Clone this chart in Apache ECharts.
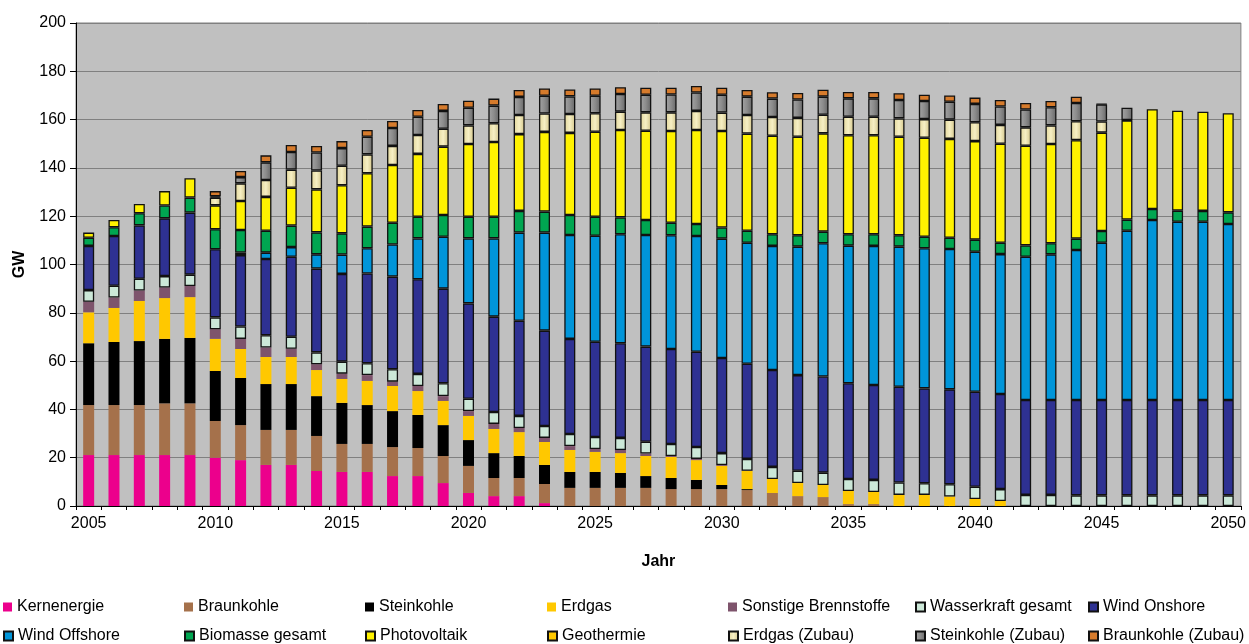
<!DOCTYPE html>
<html><head><meta charset="utf-8">
<script src="https://cdn.jsdelivr.net/npm/echarts@6/dist/echarts.min.js"></script>
<style>html,body{margin:0;padding:0;background:#fff;}#c{width:1249px;height:644px;}</style>
</head><body><div id="c"></div>
<script>
const years = ['2005','2006','2007','2008','2009','2010','2011','2012','2013','2014','2015','2016','2017','2018','2019','2020','2021','2022','2023','2024','2025','2026','2027','2028','2029','2030','2031','2032','2033','2034','2035','2036','2037','2038','2039','2040','2041','2042','2043','2044','2045','2046','2047','2048','2049','2050'];
const yTicks = [0,20,40,60,80,100,120,140,160,180,200];

const kernenergie = [21.1,21.1,21.1,21.1,21.1,20.0,19.0,17.0,17.0,14.5,14.1,14.1,12.4,12.4,9.5,5.4,4.1,4.1,1.2,0,0,0,0,0,0,0,0,0,0,0,0,0,0,0,0,0,0,0,0,0,0,0,0,0,0,0];
const braunkohle = [20.7,20.7,20.7,21.4,21.4,15.2,14.5,14.5,14.5,14.5,11.6,11.6,12.0,11.6,11.2,11.2,7.5,7.5,7.9,7.5,7.5,7.5,7.5,7.0,7.0,7.0,6.6,5.4,4.1,3.7,0.8,0.8,0,0,0,0,0,0,0,0,0,0,0,0,0,0];
const steinkohle = [25.6,26.1,26.5,26.7,27.1,20.7,19.5,19.0,19.0,16.5,17.0,16.1,14.9,13.7,12.8,10.7,10.3,9.1,7.9,6.6,6.6,6.2,4.9,4.6,3.8,1.7,0.4,0,0,0,0,0,0,0,0,0,0,0,0,0,0,0,0,0,0,0];
const erdgas = [12.8,14.1,16.6,16.9,16.9,13.3,12.0,11.2,11.2,10.8,9.9,10.0,10.4,9.9,10.0,10.0,10.0,9.9,9.5,9.1,8.3,8.2,8.3,8.7,8.2,7.9,7.5,5.8,5.4,5.0,5.4,5.0,4.6,4.6,3.9,2.9,2.1,0,0,0,0,0,0,0,0,0];
const sonstige = [4.4,4.3,4.3,4.4,4.6,4.0,4.2,3.9,3.4,2.4,2.2,2.4,1.8,2.1,2.0,2.0,2.1,1.7,1.7,1.6,1.2,1.3,1.0,0.4,0.5,0.4,0.1,0,0,0,0,0,0,0,0,0,0,0,0,0,0,0,0,0,0,0];
const wasserkraft = [4.8,4.9,4.9,4.7,4.7,4.9,5.1,5.1,5.0,4.9,5.0,4.9,5.1,5.0,5.3,5.1,4.9,5.0,4.9,5.0,5.0,5.0,4.9,5.0,4.9,4.9,4.9,5.0,5.1,5.1,5.0,5.0,5.1,4.8,5.1,5.1,4.9,4.6,4.6,4.4,4.4,4.4,4.4,4.4,4.4,4.4];
const windOnshore = [18.3,20.6,22.1,23.9,25.7,28.2,29.6,31.6,33.1,34.7,36.3,37.2,38.4,39.2,39.2,39.5,39.5,39.4,39.5,39.4,39.4,39.2,39.4,39.3,39.5,39.4,39.4,40.1,39.6,39.8,39.6,39.3,39.7,39.3,39.3,39.3,39.4,39.3,39.3,39.5,39.5,39.5,39.5,39.5,39.5,39.5];
const windOffshore = [0,0,0,0,0,0,1.1,2.6,4.0,5.9,8.0,10.4,13.3,16.9,21.5,26.9,32.4,36.5,40.6,43.0,43.9,45.1,46.2,47.1,47.9,49.4,50.1,51.4,53.2,55.2,57.0,57.6,58.0,58.0,58.1,58.0,57.9,59.3,60.3,62.1,65.1,70.1,74.5,73.8,73.8,72.9];
const biomasse = [3.4,3.6,5.0,5.3,6.2,8.3,9.3,9.1,8.9,9.1,8.8,9.0,9.0,9.0,9.0,9.0,9.0,9.0,8.7,8.3,7.9,7.0,6.2,5.2,5.0,4.6,5.0,4.8,4.7,4.8,4.7,4.8,4.7,4.8,4.7,5.0,4.7,4.7,4.6,4.7,4.9,4.6,4.6,4.6,4.5,4.8];
const photovoltaik = [2.1,3.0,3.9,6.0,8.0,9.9,12.0,14.0,15.7,17.8,19.9,22.1,23.9,26.0,28.3,30.1,30.9,31.8,33.0,34.0,35.2,36.2,37.0,38.0,38.9,40.0,40.2,40.8,40.8,40.7,41.0,41.0,40.8,41.0,40.9,40.8,41.0,41.3,41.1,40.8,40.7,41.0,41.3,41.4,41.1,41.0];
const geothermie = [0,0,0,0,0,0,0,0,0,0,0,0,0,0,0,0,0,0,0,0,0,0,0,0,0,0,0,0,0,0,0,0,0,0,0,0,0,0,0,0,0,0,0,0,0,0];
const erdgasZubau = [0,0,0,0,0,3.2,7.3,7.0,7.5,7.8,8.1,7.8,7.9,7.8,7.4,7.7,7.8,7.9,7.6,7.8,7.6,7.6,7.6,7.7,7.9,7.6,7.7,7.8,7.8,7.7,7.7,7.7,7.6,7.7,8.0,7.8,7.8,7.6,7.7,7.8,4.6,0.2,0,0,0,0];
const steinkohleZubau = [0,0,0,0,0,0.5,2.6,7.3,7.3,7.5,7.3,7.3,7.4,7.6,7.4,7.3,7.3,7.5,7.4,7.3,7.3,7.3,7.3,7.4,7.6,7.4,7.6,7.6,7.6,7.5,7.6,7.6,7.6,7.5,7.4,7.6,7.6,7.4,7.5,7.6,7.1,5.1,0,0,0,0];
const braunkohleZubau = [0,0,0,0,0,2.2,2.5,2.9,2.9,2.7,2.9,2.8,2.9,2.8,2.9,2.9,2.9,2.9,3.0,2.9,3.0,2.8,2.9,2.8,2.7,2.9,2.8,2.6,2.7,2.9,2.6,2.6,2.8,2.6,2.6,2.6,2.7,2.7,2.6,2.6,0.2,0,0,0,0,0];

const grad = (a,b,c) => ({type:'linear',x:0,y:0,x2:1,y2:0,colorStops:[{offset:0,color:a},{offset:0.5,color:b},{offset:1,color:c}]});
const defs = [
  ['Kernenergie', kernenergie, '#EC008C', false],
  ['Braunkohle', braunkohle, '#A5714B', false],
  ['Steinkohle', steinkohle, '#000000', false],
  ['Erdgas', erdgas, '#FFC800', false],
  ['Sonstige Brennstoffe', sonstige, '#7E546C', false],
  ['Wasserkraft gesamt', wasserkraft, '#CCE8D8', true],
  ['Wind Onshore', windOnshore, '#2E3192', true],
  ['Wind Offshore', windOffshore, '#0095D9', true],
  ['Biomasse gesamt', biomasse, '#00A651', true],
  ['Photovoltaik', photovoltaik, '#FFF200', true],
  ['Geothermie', geothermie, '#FFC800', true],
  ['Erdgas (Zubau)', erdgasZubau, grad('#E2D69A','#F6EFC4','#D2C488'), true],
  ['Steinkohle (Zubau)', steinkohleZubau, grad('#A4A4A4','#8C8C8C','#666666'), true],
  ['Braunkohle (Zubau)', braunkohleZubau, '#D67B2C', true]
];
const series = defs.map(([name, vals, color, border]) => ({
  name, type:'bar', stack:'all', barWidth: 11,
  data: vals.map(v => v > 0 ? v : '-'),
  itemStyle: border ? {color, borderColor:'#111', borderWidth:1.3} : {color},
  emphasis:{disabled:true}
}));
const font = 'Liberation Sans, Arial, sans-serif';
const colLeft = [3, 184, 365, 547, 728, 915, 1088];
const rowTop = [599, 628];
const legends = defs.map((d, i) => ({
  data:[{name:d[0], icon:'rect'}], left: colLeft[i % 7], top: rowTop[Math.floor(i / 7)], padding:0,
  itemWidth:9, itemHeight:9, selectedMode:false,
  textStyle:{fontFamily:font, fontSize:16, color:'#000'}
}));
const chart = echarts.init(document.getElementById('c'), null, {renderer:'canvas'});
chart.setOption({
  animation:false,
  backgroundColor:'#fff',
  grid:{left:76, right:6, top:23, bottom:138, show:true, backgroundColor:'#C0C0C0', borderColor:'#808080', borderWidth:1},
  legend: legends,
  xAxis:{type:'category', data:years, boundaryGap:true,
    name:'Jahr', nameLocation:'middle', nameGap:48,
    nameTextStyle:{fontFamily:font, fontSize:16, fontWeight:'bold', color:'#000'},
    axisLine:{lineStyle:{color:'#000', width:1}},
    axisTick:{show:true, interval:0, alignWithLabel:false, length:4, lineStyle:{color:'#000'}},
    axisLabel:{interval:4, margin:10, fontFamily:font, fontSize:16, color:'#000'},
    splitLine:{show:false}},
  yAxis:{type:'value', min:yTicks[0], max:yTicks[yTicks.length-1], interval:20,
    name:'GW', nameLocation:'middle', nameGap:48, nameRotate:90,
    nameTextStyle:{fontFamily:font, fontSize:16, fontWeight:'bold', color:'#000'},
    axisLine:{show:true, lineStyle:{color:'#000', width:1}},
    axisTick:{show:true, length:6, lineStyle:{color:'#000'}},
    axisLabel:{margin:10, fontFamily:font, fontSize:16, color:'#000'},
    splitLine:{show:true, lineStyle:{color:'#808080', width:1}}},
  series
});
</script></body></html>
